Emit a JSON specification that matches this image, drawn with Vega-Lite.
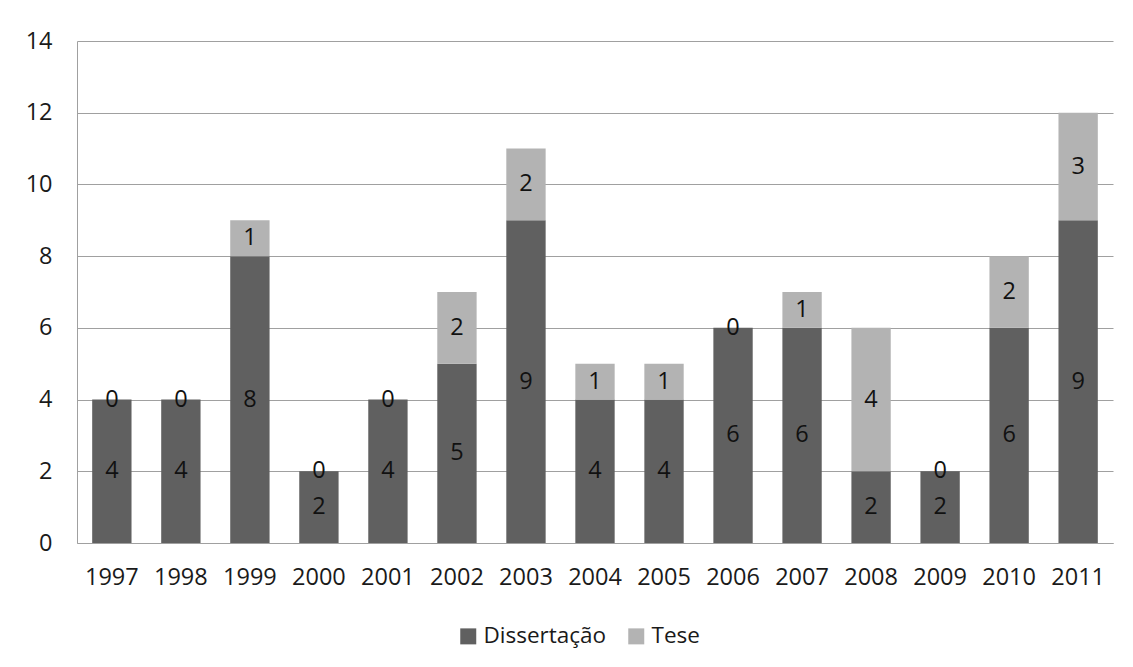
{
  "$schema": "https://vega.github.io/schema/vega-lite/v6.json",
  "autosize": "none",
  "width": 1036,
  "height": 502,
  "padding": {"left": 77, "top": 41, "right": 20, "bottom": 124},
  "background": "white",
  "config": {
    "font": "Open Sans",
    "view": {"stroke": null}
  },
  "data": {
    "values": [
      {"year": "1997", "serie": "Dissertação", "ord": 1, "value": 4},
      {"year": "1997", "serie": "Tese", "ord": 2, "value": 0},
      {"year": "1998", "serie": "Dissertação", "ord": 1, "value": 4},
      {"year": "1998", "serie": "Tese", "ord": 2, "value": 0},
      {"year": "1999", "serie": "Dissertação", "ord": 1, "value": 8},
      {"year": "1999", "serie": "Tese", "ord": 2, "value": 1},
      {"year": "2000", "serie": "Dissertação", "ord": 1, "value": 2},
      {"year": "2000", "serie": "Tese", "ord": 2, "value": 0},
      {"year": "2001", "serie": "Dissertação", "ord": 1, "value": 4},
      {"year": "2001", "serie": "Tese", "ord": 2, "value": 0},
      {"year": "2002", "serie": "Dissertação", "ord": 1, "value": 5},
      {"year": "2002", "serie": "Tese", "ord": 2, "value": 2},
      {"year": "2003", "serie": "Dissertação", "ord": 1, "value": 9},
      {"year": "2003", "serie": "Tese", "ord": 2, "value": 2},
      {"year": "2004", "serie": "Dissertação", "ord": 1, "value": 4},
      {"year": "2004", "serie": "Tese", "ord": 2, "value": 1},
      {"year": "2005", "serie": "Dissertação", "ord": 1, "value": 4},
      {"year": "2005", "serie": "Tese", "ord": 2, "value": 1},
      {"year": "2006", "serie": "Dissertação", "ord": 1, "value": 6},
      {"year": "2006", "serie": "Tese", "ord": 2, "value": 0},
      {"year": "2007", "serie": "Dissertação", "ord": 1, "value": 6},
      {"year": "2007", "serie": "Tese", "ord": 2, "value": 1},
      {"year": "2008", "serie": "Dissertação", "ord": 1, "value": 2},
      {"year": "2008", "serie": "Tese", "ord": 2, "value": 4},
      {"year": "2009", "serie": "Dissertação", "ord": 1, "value": 2},
      {"year": "2009", "serie": "Tese", "ord": 2, "value": 0},
      {"year": "2010", "serie": "Dissertação", "ord": 1, "value": 6},
      {"year": "2010", "serie": "Tese", "ord": 2, "value": 2},
      {"year": "2011", "serie": "Dissertação", "ord": 1, "value": 9},
      {"year": "2011", "serie": "Tese", "ord": 2, "value": 3}
    ]
  },
  "transform": [
    {"stack": "value", "groupby": ["year"], "sort": [{"field": "ord"}], "as": ["v0", "v1"]},
    {"calculate": "(datum.v0 + datum.v1) / 2", "as": "mid"}
  ],
  "encoding": {
    "x": {
      "field": "year",
      "type": "nominal",
      "title": null,
      "scale": {"paddingInner": 0.43, "paddingOuter": 0.22},
      "axis": {
        "labelAngle": 0,
        "labelFontSize": 23.5,
        "labelColor": "#1a1a1a",
        "labelPadding": 22,
        "ticks": false,
        "domainColor": "#a0a0a0",
        "domainWidth": 1
      }
    }
  },
  "layer": [
    {
      "mark": {"type": "bar"},
      "encoding": {
        "y": {
          "field": "v0",
          "type": "quantitative",
          "title": null,
          "scale": {"domain": [0, 14]},
          "axis": {
            "values": [0, 2, 4, 6, 8, 10, 12, 14],
            "labelFontSize": 23.5,
            "labelColor": "#1a1a1a",
            "labelPadding": 25,
            "ticks": false,
            "domain": true,
            "domainColor": "#a0a0a0",
            "gridColor": "#a0a0a0",
            "gridWidth": 1
          }
        },
        "y2": {"field": "v1"},
        "color": {
          "field": "serie",
          "type": "nominal",
          "scale": {"domain": ["Dissertação", "Tese"], "range": ["#606060", "#b3b3b3"]},
          "legend": {
            "orient": "none",
            "legendX": 380,
            "legendY": 584,
            "direction": "horizontal",
            "title": null,
            "symbolType": "square",
            "symbolSize": 256,
            "symbolStrokeWidth": 0,
            "labelFontSize": 22.5,
            "labelColor": "#1a1a1a",
            "columnPadding": 18,
            "labelOffset": 4
          }
        }
      }
    },
    {
      "mark": {"type": "text", "fontSize": 23.5, "color": "#111111", "baseline": "middle"},
      "encoding": {
        "y": {"field": "mid", "type": "quantitative"},
        "text": {"field": "value", "type": "quantitative"}
      }
    }
  ]
}
